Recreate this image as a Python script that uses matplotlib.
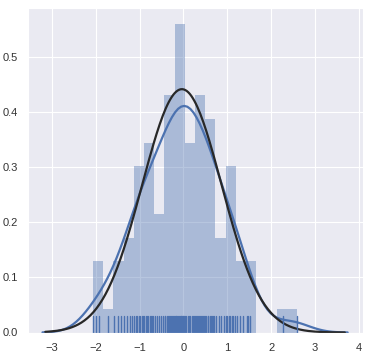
import numpy as np
import matplotlib
matplotlib.use("Agg")
import matplotlib.pyplot as plt
import seaborn as sns

values = [
    -2.06, -1.99, -1.92,
    -1.72,
    -1.57, -1.49, -1.42,
    -1.35, -1.28, -1.22, -1.17,
    -1.12, -1.08, -1.05, -1.02, -0.98, -0.95, -0.92,
    -0.89, -0.86, -0.83, -0.80, -0.77, -0.74, -0.71, -0.69,
    -0.65, -0.60, -0.55, -0.50, -0.46,
    -0.43, -0.41, -0.38, -0.36, -0.33, -0.31, -0.29, -0.26, -0.24, -0.22,
    -0.19, -0.18, -0.16, -0.14, -0.12, -0.10, -0.08, -0.06, -0.05, -0.03, -0.02, 0.00, 0.01,
    0.04, 0.07, 0.10, 0.13, 0.16, 0.19, 0.22, 0.24,
    0.27, 0.29, 0.31, 0.34, 0.36, 0.38, 0.41, 0.43, 0.45, 0.47,
    0.50, 0.52, 0.55, 0.57, 0.60, 0.63, 0.65, 0.68, 0.70,
    0.75, 0.80, 0.86, 0.92,
    0.97, 1.00, 1.03, 1.07, 1.10, 1.13, 1.17,
    1.22, 1.29, 1.36,
    1.44, 1.47, 1.51,
    2.27,
    2.59,
]
n_bins = 20
x_ticks = [-3, -2, -1, 0, 1, 2, 3, 4]
y_ticks = [0.0, 0.1, 0.2, 0.3, 0.4, 0.5]

sns.set_style("darkgrid")
plt.rcParams['font.family'] = ['Liberation Sans', 'DejaVu Sans']

blue = "#4C72B0"
a = np.asarray(values)
n = len(a)

fig = plt.figure(figsize=(3.7, 3.56), dpi=100)
ax = fig.add_axes([28 / 370, 1 - 332.5 / 356, 335 / 370, 324.5 / 356])

# histogram
ax.hist(a, bins=n_bins, density=True, color=blue, alpha=0.4, lw=0, edgecolor="none")

# kde (gaussian, scott rule like statsmodels)
std = a.std(ddof=1)
iqr = np.subtract(*np.percentile(a, [75, 25]))
bw = 1.059 * min(std, iqr / 1.349) * n ** (-0.2)
grid = np.linspace(a.min() - 3 * bw, a.max() + 3 * bw, 100)
dens = np.exp(-0.5 * ((grid[:, None] - a[None, :]) / bw) ** 2).sum(1) / (n * bw * np.sqrt(2 * np.pi))
ax.plot(grid, dens, color=blue, lw=1.6)

# normal fit
mu, sigma = a.mean(), a.std()
bw2 = std * n ** (-0.2)
fx = np.linspace(a.min() - 3 * bw2, a.max() + 3 * bw2, 200)
fy = np.exp(-0.5 * ((fx - mu) / sigma) ** 2) / (sigma * np.sqrt(2 * np.pi))
ax.plot(fx, fy, color="#282828", lw=1.6)

# rug
for v in a:
    ax.axvline(v, ymin=0, ymax=0.05, color=blue, lw=1)

ax.set_xlim(-3.54, 4.09)
ax.set_ylim(0, 0.588)
ax.set_xticks(x_ticks)
ax.set_yticks(y_ticks)
ax.tick_params(labelsize=8, colors="#333333", pad=4)

fig.savefig("out.png", dpi=100)
